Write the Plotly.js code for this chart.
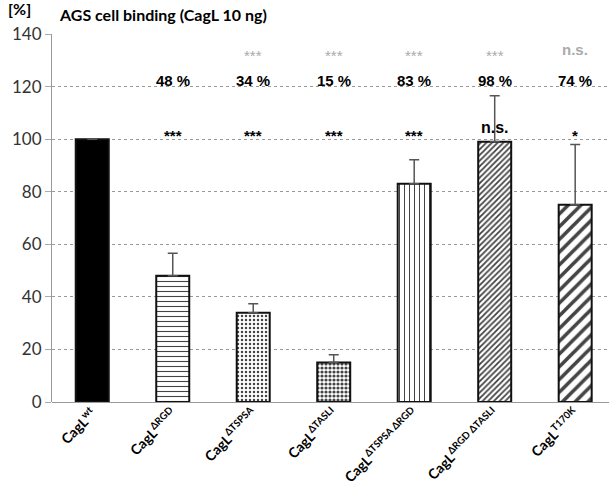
<!DOCTYPE html>
<html><head><meta charset="utf-8">
<script src="https://cdn.plot.ly/plotly-3.0.1.min.js"></script>
<style>html,body{margin:0;padding:0;background:#fff}</style>
</head><body><div id="chart" style="width:609px;height:485px"></div>
<script>
const categories = ['CagL<sup>wt</sup>','CagL<sup>ΔRGD</sup>','CagL<sup>ΔTSPSA</sup>','CagL<sup>ΔTASLI</sup>','CagL<sup>ΔTSPSA ΔRGD</sup>','CagL<sup>ΔRGD ΔTASLI</sup>','CagL<sup>T170K</sup>'];
const values = [100, 48, 34, 15, 83, 99, 75];
const errorsUp = [0, 8.6, 3.4, 3, 9.2, 17.5, 23];
const pctLabels = ['', '48 %', '34 %', '15 %', '83 %', '98 %', '74 %'];
const sigBlack = ['', '***', '***', '***', '***', 'n.s.', '*'];
const sigGray = ['', '', '***', '***', '***', '***', 'n.s.'];

const patternShapes = ['', '-', '.', '.', '|', '/', '/'];
const patternFg = ['#000','#222','#777','#111','#333','#333','#000'];
const patternSize = [8, 5, 4, 4, 5, 4, 9];
const patternSolidity = [0.3, 0.22, 0.3, 0.5, 0.2, 0.45, 0.4];
const barColors = ['#000','#fff','#fff','#fff','#fff','#fff','#fff'];

const xs = categories.map(c => '<b>' + c + '</b>');
const trace = {
  type: 'bar',
  x: xs,
  y: values,
  width: 0.41,
  marker: {
    color: barColors,
    line: {color: '#111', width: 2},
    pattern: {shape: patternShapes, fgcolor: patternFg, fgopacity: 1, size: patternSize, solidity: patternSolidity, fillmode: 'overlay'}
  },
  error_y: {type: 'data', symmetric: false, array: errorsUp, arrayminus: errorsUp.map(() => 0), color: '#555', thickness: 1.5, width: 5, visible: true},
  hoverinfo: 'none'
};

const annotations = [];
for (let i = 0; i < categories.length; i++) {
  if (pctLabels[i]) annotations.push({x: xs[i], y: 122.5, xref: 'x', yref: 'y', text: '<b>' + pctLabels[i] + '</b>', showarrow: false, font: {family: 'Liberation Sans, Arial', size: 15, color: '#000'}});
  if (sigBlack[i]) {
    const ns = sigBlack[i] === 'n.s.';
    annotations.push({x: xs[i], y: ns ? 104.5 : 101.5, xref: 'x', yref: 'y', text: '<b>' + sigBlack[i] + '</b>', showarrow: false, font: {family: 'Liberation Sans, Arial', size: ns ? 16 : 15, color: '#000'}});
  }
  if (sigGray[i]) {
    const ns = sigGray[i] === 'n.s.';
    annotations.push({x: xs[i], y: ns ? 134 : 132, xref: 'x', yref: 'y', text: ns ? '<b>' + sigGray[i] + '</b>' : sigGray[i], showarrow: false, font: {family: 'Liberation Sans, Arial', size: 15, color: '#aaa'}});
  }
}
annotations.push({xref: 'paper', yref: 'paper', x: -0.083, y: 1.07, xanchor: 'left', yanchor: 'middle', text: '<b>[%]</b>', showarrow: false, font: {family: 'Lato, sans-serif', size: 16, color: '#000'}});

const layout = {
  width: 609, height: 485,
  margin: {l: 52, r: 0, t: 34, b: 83},
  paper_bgcolor: '#fff', plot_bgcolor: '#fff',
  showlegend: false,
  title: {text: '<b>AGS cell binding (CagL 10 ng)</b>', x: 60/609, xref: 'container', xanchor: 'left', y: 1 - 15/485, yref: 'container', yanchor: 'middle', font: {family: 'Lato, sans-serif', size: 16, color: '#000'}},
  xaxis: {
    range: [-0.5, 6.42], tickangle: -45, showgrid: false, zeroline: false, showline: false, ticks: '',
    tickfont: {family: 'Lato, sans-serif', size: 14, color: '#000'}
  },
  yaxis: {
    range: [0, 140], dtick: 20, showgrid: true, gridcolor: '#999', griddash: 'dot', gridwidth: 1,
    zeroline: true, zerolinecolor: '#999', zerolinewidth: 1,
    showline: true, linecolor: '#999', linewidth: 1, ticks: 'outside', ticklen: 6, tickcolor: '#aaa',
    tickfont: {family: 'Lato, sans-serif', size: 17, color: '#333'}
  },
  annotations: annotations
};
Plotly.newPlot('chart', [trace], layout, {displayModeBar: false, staticPlot: true});
</script></body></html>
